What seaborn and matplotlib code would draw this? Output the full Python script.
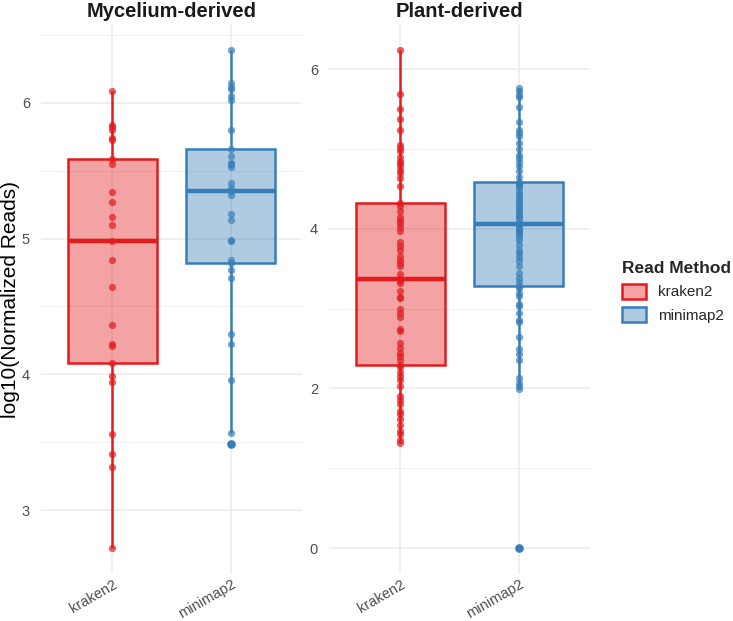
import pandas as pd
import matplotlib
matplotlib.use("Agg")
import matplotlib.pyplot as plt
import seaborn as sns
from matplotlib.colors import to_rgba
from matplotlib.patches import Patch
from matplotlib.ticker import MultipleLocator

sns.set_theme(style="whitegrid")
plt.rcParams['font.family'] = ['Liberation Sans', 'DejaVu Sans']

# Data (log10 normalized reads)
methods = ['kraken2', 'minimap2']
panels = ['Mycelium-derived', 'Plant-derived']
colors = {'kraken2': '#E41A1C', 'minimap2': '#377EB8'}

myc_kraken2 = [2.72, 3.32, 3.41, 3.56, 3.94, 3.99, 4.08, 4.21, 4.22, 4.36, 4.64, 4.84, 4.98,
               5.10, 5.16, 5.27, 5.34, 5.55, 5.59, 5.73, 5.74, 5.80, 5.82, 5.84, 6.09]
myc_minimap2 = [3.49, 3.57, 3.96, 4.22, 4.30, 4.71, 4.77, 4.82, 4.84, 4.985, 4.99, 5.135, 5.18,
                5.32, 5.35, 5.37, 5.41, 5.53, 5.55, 5.56, 5.61, 5.66, 5.80, 6.02, 6.05, 6.105,
                6.115, 6.145, 6.39]
plant_kraken2 = [1.32, 1.36, 1.43, 1.47, 1.54, 1.62, 1.68, 1.72, 1.80, 1.86, 1.90, 2.03, 2.10,
                 2.15, 2.20, 2.27, 2.29, 2.36, 2.40, 2.44, 2.50, 2.57, 2.72, 2.75, 2.90, 2.95,
                 2.99, 3.13, 3.15, 3.22, 3.32, 3.34, 3.37, 3.43, 3.53, 3.57, 3.61, 3.66, 3.74,
                 3.78, 3.84, 3.97, 4.02, 4.07, 4.11, 4.15, 4.22, 4.28, 4.32, 4.53, 4.63, 4.70,
                 4.74, 4.79, 4.82, 4.85, 4.90, 4.98, 5.01, 5.05, 5.24, 5.37, 5.50, 5.69, 6.24]
plant_minimap2 = [0.0, 1.99, 2.03, 2.07, 2.13, 2.36, 2.43, 2.49, 2.65, 2.83, 2.86, 2.95, 3.03,
                  3.06, 3.16, 3.20, 3.26, 3.28, 3.33, 3.38, 3.45, 3.53, 3.60, 3.65, 3.70, 3.74,
                  3.80, 3.86, 3.90, 3.93, 3.96, 3.99, 4.01, 4.03, 4.06, 4.09, 4.13, 4.16, 4.18,
                  4.22, 4.25, 4.28, 4.32, 4.35, 4.38, 4.42, 4.45, 4.50, 4.53, 4.55, 4.57, 4.59,
                  4.65, 4.72, 4.79, 4.84, 4.88, 4.925, 5.00, 5.07, 5.16, 5.20, 5.24, 5.34, 5.52,
                  5.65, 5.675, 5.72, 5.76]

rows = []
for panel, method, vals in [('Mycelium-derived', 'kraken2', myc_kraken2),
                            ('Mycelium-derived', 'minimap2', myc_minimap2),
                            ('Plant-derived', 'kraken2', plant_kraken2),
                            ('Plant-derived', 'minimap2', plant_minimap2)]:
    for v in vals:
        rows.append({'panel': panel, 'method': method, 'value': v})
df = pd.DataFrame(rows)

fig = plt.figure(figsize=(7.33, 6.21), dpi=100)
W, H = 733, 621
axes = [fig.add_axes([41 / W, 48 / H, 261 / W, 548 / H]),
        fig.add_axes([329 / W, 48 / H, 261 / W, 548 / H])]

grid_col = '#EBEBEB'
for ax, panel in zip(axes, panels):
    sub = df[df['panel'] == panel]
    for m in methods:
        c = colors[m]
        sm = sub[sub['method'] == m]
        sns.boxplot(data=sm, x='method', y='value', order=methods, ax=ax,
                    color=c, linecolor=c, width=0.75, linewidth=1.8, showcaps=False,
                    medianprops=dict(linewidth=3.2, color=c),
                    flierprops=dict(marker='o', markerfacecolor=c, markeredgecolor=c,
                                    markersize=5.2),
                    zorder=2)
        sns.stripplot(data=sm, x='method', y='value', order=methods, ax=ax,
                      color=c, jitter=False, size=5.2, alpha=0.7, linewidth=0, zorder=3)
    for p in ax.patches:
        ec = p.get_edgecolor()
        p.set_facecolor(to_rgba(ec[:3], 0.4))

    lo, hi = sub['value'].min(), sub['value'].max()
    pad = 0.05 * (hi - lo)
    ax.set_ylim(lo - pad, hi + pad)
    ax.set_xlim(-0.6, 1.6)
    step = 1 if panel == 'Mycelium-derived' else 2
    ax.yaxis.set_major_locator(MultipleLocator(step))
    ax.yaxis.set_minor_locator(MultipleLocator(step / 2))
    ax.set_facecolor('white')
    ax.grid(True, which='major', color=grid_col, linewidth=1.1)
    ax.grid(True, which='minor', axis='y', color=grid_col, linewidth=0.6)
    ax.set_axisbelow(True)
    for s in ax.spines.values():
        s.set_visible(False)
    ax.tick_params(axis='both', which='both', length=0, labelsize=10.5,
                   labelcolor='#4D4D4D', pad=3)
    ax.tick_params(axis='y', pad=8)
    plt.setp(ax.get_xticklabels(), rotation=30, ha='right', rotation_mode='anchor')
    ax.set_xlabel('')
    ax.set_ylabel('')
    ax.set_title(panel, fontsize=14.5, fontweight='bold', pad=6, color='#1A1A1A')

axes[0].set_ylabel('log10(Normalized Reads)', fontsize=15, color='black', labelpad=1)

handles = [Patch(facecolor=to_rgba(colors[m], 0.4), edgecolor=colors[m], linewidth=1.8, label=m)
           for m in methods]
leg = fig.legend(handles=handles, title='Read Method', loc='center left',
                 bbox_to_anchor=(608 / W, 1 - 292 / H), frameon=False, fontsize=11,
                 title_fontproperties={'weight': 'bold', 'size': 12.5}, handlelength=1.6,
                 handleheight=1.1)
leg._legend_box.align = 'left'

fig.savefig('out.png', dpi=100)
